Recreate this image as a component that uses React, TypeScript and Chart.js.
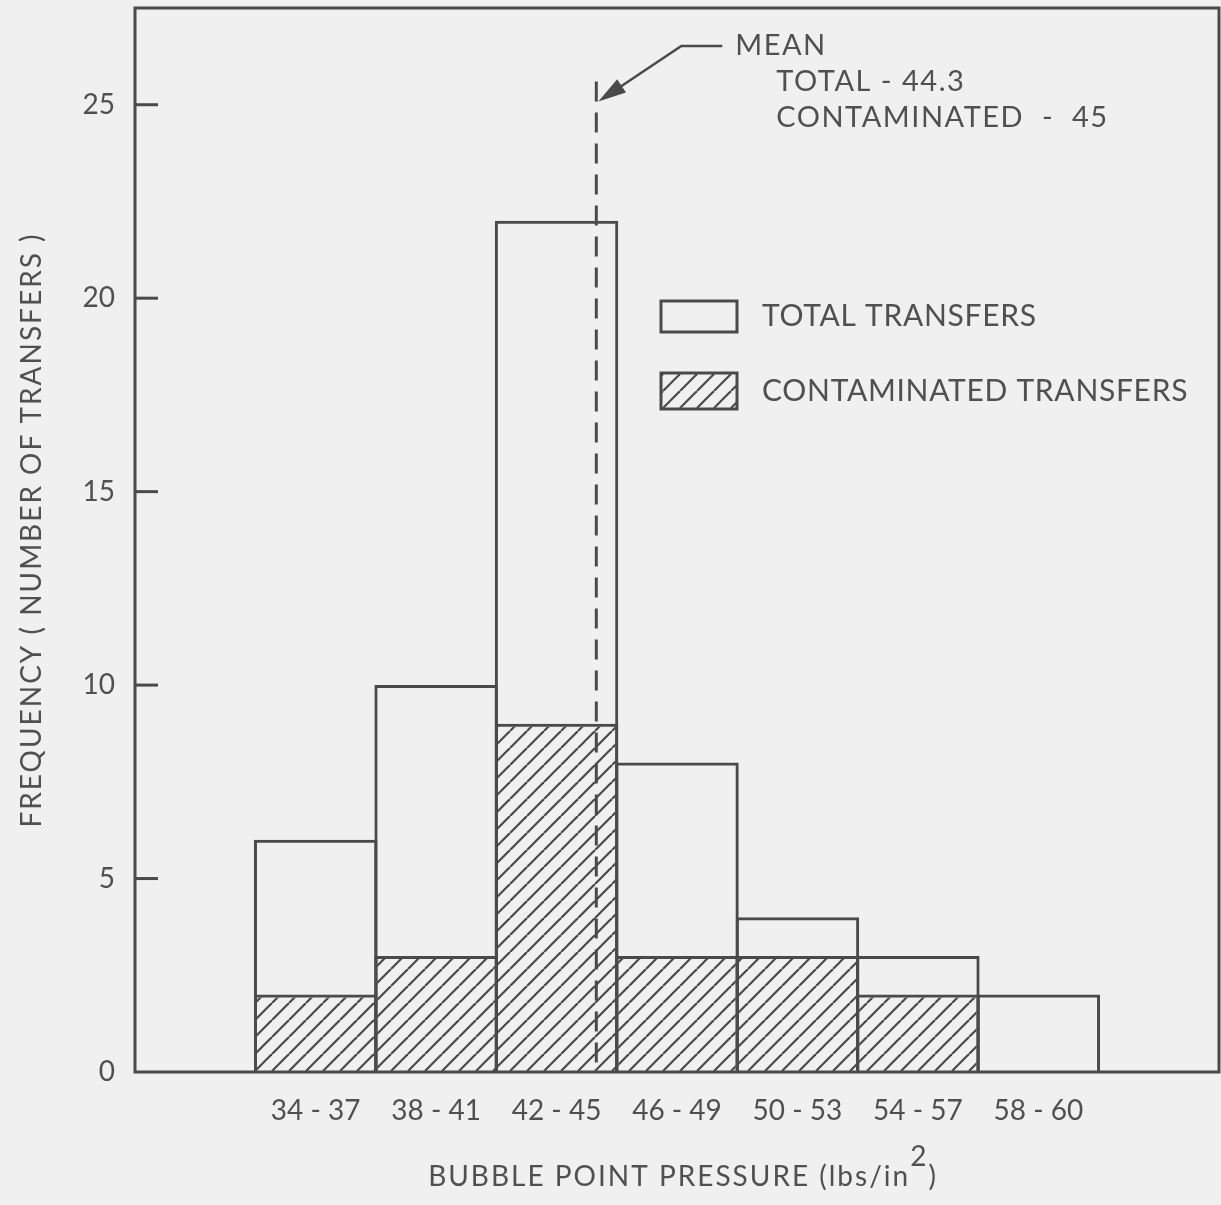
import React, { useEffect, useRef } from 'react';
import { Chart, registerables } from 'chart.js';

Chart.register(...registerables);

// ---- data ----
const binLabels = ['34 - 37', '38 - 41', '42 - 45', '46 - 49', '50 - 53', '54 - 57', '58 - 60'];
const totalTransfers = [6, 10, 22, 8, 4, 3, 2];
const contaminatedTransfers = [2, 3, 9, 3, 3, 2, 0];
const yTickValues = [0, 5, 10, 15, 20, 25];
const yMax = 27.5;
const meanTotal = 44.3;
const meanContaminated = 45;
// position of the dashed mean line on the bin axis (bin index units, 1 = first bin)
const meanLineBinPosition = 3.33;
const meanLineTopValue = 25.6;

const yTitle = 'FREQUENCY ( NUMBER OF TRANSFERS )';
const xTitleMain = 'BUBBLE POINT PRESSURE (lbs/in';
const xTitleSup = '2';
const xTitleEnd = ')';
const legendTotal = 'TOTAL TRANSFERS';
const legendContaminated = 'CONTAMINATED TRANSFERS';

// ---- styles ----
const BG = '#f0f0f0';
const INK = '#4a4a4a';
const TEXT = '#505050';
const FONT = 'Lato, "DejaVu Sans", sans-serif';

function makeHatch(): CanvasPattern | string {
  const size = 17;
  const c = document.createElement('canvas');
  c.width = size;
  c.height = size;
  const g = c.getContext('2d');
  if (!g) return INK;
  g.strokeStyle = INK;
  g.lineWidth = 2.2;
  for (let k = -1; k <= 1; k++) {
    g.beginPath();
    g.moveTo(k * size, size);
    g.lineTo(k * size + size, 0);
    g.stroke();
  }
  const p = g.createPattern(c, 'repeat');
  return p || INK;
}

export default function App() {
  const ref = useRef<HTMLCanvasElement | null>(null);

  useEffect(() => {
    const canvas = ref.current;
    if (!canvas) return;
    const hatch = makeHatch();
    const labels = ['', ...binLabels, ''];
    const pad = (a: number[]) => [null, ...a.map((v) => (v === 0 ? null : v)), null];

    const setSpacing = (ctx: any, px: number) => {
      if ('letterSpacing' in ctx) ctx.letterSpacing = `${px}px`;
    };

    const decorPlugin = {
      id: 'decor',
      beforeDraw(chart: any) {
        const ctx = chart.ctx;
        ctx.save();
        ctx.fillStyle = BG;
        ctx.fillRect(0, 0, chart.width, chart.height);
        ctx.restore();
      },
      afterDatasetsDraw(chart: any) {
        const ctx: any = chart.ctx;
        const { left, right, top, bottom } = chart.chartArea;
        const x = chart.scales.x;
        const y = chart.scales.y;
        ctx.save();
        // frame
        ctx.strokeStyle = INK;
        ctx.lineWidth = 3;
        ctx.strokeRect(left, top, right - left, bottom - top);
        // inner y ticks
        yTickValues.forEach((v) => {
          if (v === 0) return;
          const py = y.getPixelForValue(v);
          ctx.beginPath();
          ctx.moveTo(left, py);
          ctx.lineTo(left + 23, py);
          ctx.stroke();
        });
        // dashed mean line
        const mx = x.getPixelForValue(meanLineBinPosition);
        const mTop = y.getPixelForValue(meanLineTopValue);
        ctx.setLineDash([20, 11]);
        ctx.beginPath();
        ctx.moveTo(mx, mTop);
        ctx.lineTo(mx, bottom);
        ctx.stroke();
        ctx.setLineDash([]);
        // arrow
        const tipX = mx + 2;
        const tipY = mTop + 20;
        const elbowX = mx + 85;
        const elbowY = 46;
        ctx.lineWidth = 2.5;
        ctx.beginPath();
        ctx.moveTo(mx + 126, elbowY);
        ctx.lineTo(elbowX, elbowY);
        ctx.lineTo(tipX + 15, tipY - 10);
        ctx.stroke();
        const ang = Math.atan2(tipY - elbowY, tipX - elbowX);
        const len = 28;
        const hw = 8;
        const bx = tipX - len * Math.cos(ang);
        const by = tipY - len * Math.sin(ang);
        ctx.fillStyle = INK;
        ctx.beginPath();
        ctx.moveTo(tipX, tipY);
        ctx.lineTo(bx + hw * Math.sin(ang), by - hw * Math.cos(ang));
        ctx.lineTo(bx - hw * Math.sin(ang), by + hw * Math.cos(ang));
        ctx.closePath();
        ctx.fill();

        // annotation text
        ctx.fillStyle = TEXT;
        ctx.textBaseline = 'middle';
        ctx.textAlign = 'left';
        ctx.font = `29px ${FONT}`;
        setSpacing(ctx, 1.5);
        ctx.fillText('MEAN', mx + 139, 46);
        ctx.fillText(`TOTAL - ${meanTotal}`, mx + 180, 82);
        ctx.fillText(`CONTAMINATED  -  ${meanContaminated}`, mx + 180, 118);

        // legend
        setSpacing(ctx, 0.7);
        ctx.lineWidth = 3;
        ctx.strokeStyle = INK;
        ctx.strokeRect(661, 301, 76, 31);
        ctx.fillStyle = hatch as any;
        ctx.fillRect(661, 373, 76, 36);
        ctx.strokeRect(661, 373, 76, 36);
        ctx.fillStyle = TEXT;
        ctx.font = `30px ${FONT}`;
        ctx.fillText(legendTotal, 762, 316);
        ctx.fillText(legendContaminated, 762, 391);

        // y title
        setSpacing(ctx, 2);
        ctx.save();
        ctx.translate(32, 530);
        ctx.rotate(-Math.PI / 2);
        ctx.textAlign = 'center';
        ctx.font = `28px ${FONT}`;
        ctx.fillText(yTitle, 0, 0);
        ctx.restore();

        // x title with superscript
        ctx.font = `28px ${FONT}`;
        setSpacing(ctx, 2);
        const w1 = ctx.measureText(xTitleMain).width;
        const w2 = ctx.measureText(xTitleSup).width;
        const w3 = ctx.measureText(xTitleEnd).width;
        const total = w1 + w2 + w3;
        const cx = 683;
        let sx = cx - total / 2;
        const ty = 1177;
        ctx.textAlign = 'left';
        ctx.fillText(xTitleMain, sx, ty);
        sx += w1;
        ctx.fillText(xTitleSup, sx, ty - 20);
        sx += w2;
        ctx.fillText(xTitleEnd, sx, ty);
        ctx.restore();
      },
    };

    const chart = new Chart(canvas, {
      type: 'bar',
      data: {
        labels,
        datasets: [
          {
            label: legendContaminated,
            data: pad(contaminatedTransfers),
            backgroundColor: hatch as any,
            borderColor: INK,
            borderWidth: 3,
            borderSkipped: 'start',
            grouped: false,
            categoryPercentage: 1,
            barPercentage: 1.025,
            order: 1,
          },
          {
            label: legendTotal,
            data: pad(totalTransfers),
            backgroundColor: 'rgba(0,0,0,0)',
            borderColor: INK,
            borderWidth: 3,
            borderSkipped: 'start',
            grouped: false,
            categoryPercentage: 1,
            barPercentage: 1.025,
            order: 2,
          },
        ] as any,
      },
      options: {
        animation: false,
        responsive: false,
        maintainAspectRatio: false,
        layout: { padding: { left: 0, top: 8, right: 2, bottom: 0 } },
        plugins: {
          legend: { display: false },
          tooltip: { enabled: false },
          title: { display: false },
        },
        scales: {
          x: {
            type: 'category',
            offset: true,
            grid: { display: false, drawTicks: false },
            border: { display: false },
            ticks: {
              color: TEXT,
              font: { family: FONT, size: 28 },
              padding: 22,
              maxRotation: 0,
              autoSkip: false,
            },
            afterFit(scale: any) {
              scale.height = 133;
              scale.paddingLeft = 0;
              scale.paddingRight = 0;
              scale.paddingTop = 0;
              scale.paddingBottom = 0;
            },
          },
          y: {
            min: 0,
            max: yMax,
            grid: { display: false, drawTicks: false },
            border: { display: false },
            ticks: {
              stepSize: 5,
              includeBounds: false,
              color: TEXT,
              font: { family: FONT, size: 28 },
              padding: 20,
            },
            afterFit(scale: any) {
              scale.width = 135;
              scale.paddingLeft = 0;
              scale.paddingRight = 0;
              scale.paddingTop = 0;
              scale.paddingBottom = 0;
            },
          },
        },
      } as any,
      plugins: [decorPlugin],
    });
    return () => chart.destroy();
  }, []);

  return (
    <div style={{ position: 'absolute', left: 0, top: 0, width: 1221, height: 1205, background: BG }}>
      <canvas ref={ref} width={1221} height={1205} style={{ display: 'block' }} />
    </div>
  );
}
